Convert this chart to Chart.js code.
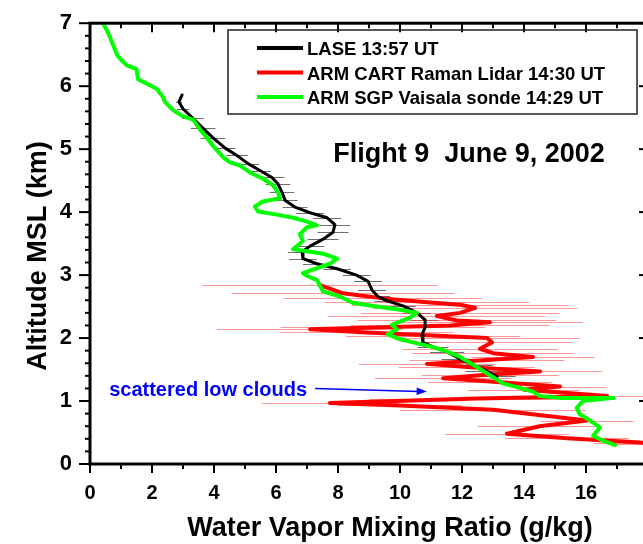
<!DOCTYPE html>
<html>
<head>
<meta charset="utf-8">
<script src="https://cdn.jsdelivr.net/npm/chart.js@4.4.1/dist/chart.umd.min.js"></script>
<style>
html, body { margin: 0; padding: 0; background: #fff; overflow: hidden; }
#wrap { width: 643px; height: 544px; overflow: hidden; }
</style>
</head>
<body>
<div id="wrap"><canvas id="chart" width="656" height="544"></canvas></div>
<script>
// LASE 13:57 UT
const laseX   = [2.97, 2.87, 3.0, 3.32, 3.65, 3.97, 4.35, 4.74, 5.1, 5.48, 5.87, 6.06, 6.19, 6.29, 6.61, 7.1, 7.65, 7.9, 7.84, 7.52, 7.1, 6.84, 6.87, 7.32, 7.97, 8.6, 8.97, 9.1, 9.29, 9.58, 10.1, 10.55, 10.81, 10.81, 10.71, 10.74, 11.06, 11.52, 11.94, 12.35, 12.81, 13.13];
const laseAlt = [5.86, 5.75, 5.64, 5.49, 5.33, 5.18, 5.02, 4.90, 4.77, 4.66, 4.55, 4.45, 4.32, 4.19, 4.08, 3.99, 3.91, 3.80, 3.68, 3.57, 3.46, 3.37, 3.26, 3.18, 3.10, 3.00, 2.90, 2.76, 2.66, 2.59, 2.51, 2.40, 2.29, 2.17, 2.06, 1.93, 1.86, 1.78, 1.67, 1.57, 1.47, 1.39];
const laseErr = [0, 0.1, 0.2, 0.35, 0.4, 0.4, 0.35, 0.35, 0.35, 0.35, 0.4, 0.4, 0.4, 0.4, 0.4, 0.45, 0.45, 0.5, 0.5, 0.5, 0.45, 0.45, 0.45, 0.45, 0.45, 0.45, 0.45, 0.45, 0.4, 0.4, 0.4, 0.45, 0.45, 0.4, 0.4, 0.45, 0.5, 0.55, 0.6, 0.65, 0.7, 0.6];

// ARM CART Raman Lidar 14:30 UT
const lidarX   = [7.42, 8.16, 9.45, 10.87, 11.94, 12.42, 11.94, 11.19, 11.84, 12.9, 11.61, 9.45, 7.1, 8.94, 11.06, 12.81, 12.97, 12.58, 13.0, 14.29, 12.8, 10.87, 12.16, 14.52, 12.9, 11.39, 12.9, 15.16, 14.0, 16.68, 12.5, 7.74, 10.0, 13.0, 16.03, 14.5, 13.45, 15.39, 17.74, 18.2];
const lidarAlt = [2.84, 2.71, 2.63, 2.57, 2.53, 2.48, 2.40, 2.35, 2.28, 2.25, 2.20, 2.17, 2.14, 2.09, 2.04, 2.00, 1.93, 1.83, 1.76, 1.70, 1.65, 1.59, 1.54, 1.47, 1.42, 1.36, 1.31, 1.23, 1.18, 1.08, 1.04, 0.97, 0.93, 0.86, 0.69, 0.60, 0.48, 0.41, 0.34, 0.32];
const lidarErr = [3.8, 3.6, 3.2, 3.3, 3.5, 3.3, 3.2, 3.5, 3.2, 3.0, 3.2, 3.3, 3.0, 2.8, 2.8, 3.0, 2.6, 2.5, 2.6, 2.0, 2.5, 2.2, 2.2, 2.0, 2.2, 2.2, 2.0, 1.5, 1.8, 1.5, 3.5, 2.2, 2.0, 3.0, 1.5, 2.0, 2.0, 2.0, 1.5, 1.5];

// ARM SGP Vaisala sonde 14:29 UT
const sondeX   = [0.42, 0.55, 0.65, 0.75, 0.87, 1.0, 1.19, 1.5, 1.55, 1.83, 2.15, 2.35, 2.42, 2.68, 3.0, 3.33, 3.55, 3.77, 3.97, 4.3, 4.52, 4.84, 5.16, 5.58, 5.9, 6.06, 6.13, 5.58, 5.32, 5.42, 6.03, 6.55, 7.0, 7.32, 7.0, 6.77, 6.87, 6.55, 7.0, 7.52, 7.97, 7.74, 7.1, 6.87, 7.0, 7.32, 7.52, 8.06, 8.48, 9.13, 10.0, 10.55, 10.3, 9.74, 9.9, 9.61, 10.0, 10.87, 11.39, 11.94, 12.48, 12.97, 13.32, 13.77, 14.29, 14.52, 15.16, 16.0, 16.9, 15.9, 15.7, 15.8, 16.13, 16.45, 16.23, 16.55, 16.94];
const sondeAlt = [7.0, 6.88, 6.77, 6.65, 6.50, 6.42, 6.33, 6.27, 6.11, 6.04, 5.96, 5.83, 5.75, 5.62, 5.52, 5.47, 5.31, 5.18, 5.05, 4.87, 4.79, 4.74, 4.63, 4.53, 4.43, 4.32, 4.22, 4.17, 4.09, 4.01, 3.96, 3.91, 3.85, 3.79, 3.76, 3.65, 3.54, 3.41, 3.38, 3.34, 3.26, 3.18, 3.07, 3.03, 2.99, 2.92, 2.74, 2.66, 2.56, 2.51, 2.45, 2.40, 2.32, 2.21, 2.14, 2.06, 1.98, 1.88, 1.81, 1.70, 1.54, 1.39, 1.28, 1.22, 1.15, 1.08, 1.05, 1.05, 1.05, 1.0, 0.89, 0.79, 0.69, 0.58, 0.45, 0.37, 0.30];

const xTicksShown = [0, 2, 4, 6, 8, 10, 12, 14, 16];
const yTicksShown = [0, 1, 2, 3, 4, 5, 6, 7];
const seriesNames = ['LASE 13:57 UT', 'ARM CART Raman Lidar 14:30 UT', 'ARM SGP Vaisala sonde 14:29 UT'];
const chartTitle = 'Flight 9  June 9, 2002';
const xTitle = 'Water Vapor Mixing Ratio (g/kg)';
const yTitle = 'Altitude MSL (km)';
const note = 'scattered low clouds';
const noteArrow = [[7.26, 1.20], [10.87, 1.15]];

const FONT = '"Liberation Sans", Arial, sans-serif';

function pts(xs, ys) {
    return xs.map((v, i) => ({ x: v, y: ys[i] }));
}

const errorBars = {
    id: 'errorBars',
    beforeDatasetsDraw(chart) {
        const { ctx, chartArea: a } = chart;
        ctx.save();
        ctx.beginPath();
        ctx.rect(a.left, a.top, a.right - a.left, a.bottom - a.top);
        ctx.clip();
        chart.data.datasets.forEach(ds => {
            if (!ds.xErr) return;
            const xs = chart.scales.x, ys = chart.scales.y;
            ctx.strokeStyle = ds.errColor;
            ctx.lineWidth = 1;
            ds.data.forEach((p, i) => {
                const e = ds.xErr[i];
                if (!e) return;
                const py = Math.round(ys.getPixelForValue(p.y)) + 0.5;
                ctx.beginPath();
                ctx.moveTo(xs.getPixelForValue(p.x - e), py);
                ctx.lineTo(xs.getPixelForValue(p.x + e), py);
                ctx.stroke();
            });
        });
        ctx.restore();
    }
};

const frame = {
    id: 'frame',
    afterDatasetsDraw(chart) {
        const { ctx, chartArea: a, scales: { x, y } } = chart;
        ctx.save();
        ctx.strokeStyle = '#000';
        ctx.lineWidth = 2;
        function seg(x1, y1, x2, y2) {
            ctx.beginPath();
            ctx.moveTo(x1, y1);
            ctx.lineTo(x2, y2);
            ctx.stroke();
        }
        for (let v = 0; v <= 18; v++) {
            const px = x.getPixelForValue(v);
            const len = v % 2 === 0 ? 9 : 5;
            seg(px, a.bottom, px, a.bottom + len);
            seg(px, a.top, px, a.top + len);
        }
        for (let i = 0; i <= 35; i++) {
            const py = y.getPixelForValue(i * 0.2);
            const major = i % 5 === 0;
            seg(a.left - (major ? 11 : 5), py, a.left, py);
            if (major) seg(a.right - 9, py, a.right, py);
        }
        ctx.lineWidth = 3;
        ctx.strokeRect(a.left, a.top, a.right - a.left, a.bottom - a.top);
        ctx.restore();
    }
};

const extras = {
    id: 'extras',
    afterDraw(chart) {
        const { ctx, scales: { x, y } } = chart;
        ctx.save();

        // legend
        ctx.strokeStyle = '#222';
        ctx.lineWidth = 1.5;
        ctx.strokeRect(228, 30, 409, 84);
        ctx.font = 'bold 18.5px ' + FONT;
        ctx.textBaseline = 'alphabetic';
        ctx.textAlign = 'left';
        chart.data.datasets.forEach((ds, i) => {
            const ly = 48 + i * 24.5;
            ctx.strokeStyle = ds.borderColor;
            ctx.lineWidth = 4;
            ctx.beginPath();
            ctx.moveTo(257, ly);
            ctx.lineTo(303, ly);
            ctx.stroke();
            ctx.fillStyle = '#000';
            ctx.fillText(ds.label, 307, ly + 7);
        });

        // title in plot
        ctx.font = 'bold 27px ' + FONT;
        ctx.textAlign = 'center';
        ctx.fillText(chartTitle, 469, 162);

        // axis titles
        ctx.font = 'bold 27px ' + FONT;
        ctx.fillText(xTitle, 390, 536);
        ctx.save();
        ctx.translate(46, 256);
        ctx.rotate(-Math.PI / 2);
        ctx.fillText(yTitle, 0, 0);
        ctx.restore();

        // annotation
        ctx.fillStyle = '#0000ff';
        ctx.strokeStyle = '#0000ff';
        ctx.font = 'bold 20px ' + FONT;
        ctx.textAlign = 'right';
        ctx.fillText(note, x.getPixelForValue(7.0), y.getPixelForValue(noteArrow[0][1]) + 8);
        const x1 = x.getPixelForValue(noteArrow[0][0]), y1 = y.getPixelForValue(noteArrow[0][1]);
        const x2 = x.getPixelForValue(noteArrow[1][0]), y2 = y.getPixelForValue(noteArrow[1][1]);
        ctx.lineWidth = 1.5;
        ctx.beginPath();
        ctx.moveTo(x1, y1);
        ctx.lineTo(x2 - 8, y2);
        ctx.stroke();
        const ang = Math.atan2(y2 - y1, x2 - x1);
        ctx.beginPath();
        ctx.moveTo(x2, y2);
        ctx.lineTo(x2 - 11 * Math.cos(ang - 0.35), y2 - 11 * Math.sin(ang - 0.35));
        ctx.lineTo(x2 - 11 * Math.cos(ang + 0.35), y2 - 11 * Math.sin(ang + 0.35));
        ctx.closePath();
        ctx.fill();

        ctx.restore();
    }
};

new Chart(document.getElementById('chart'), {
    type: 'scatter',
    data: {
        datasets: [{
            label: seriesNames[0],
            data: pts(laseX, laseAlt),
            xErr: laseErr,
            errColor: 'rgba(50, 50, 50, 0.7)',
            borderColor: '#000000',
            borderWidth: 3,
            order: 1
        }, {
            label: seriesNames[1],
            data: pts(lidarX, lidarAlt),
            xErr: lidarErr,
            errColor: 'rgba(255, 70, 70, 0.55)',
            borderColor: '#ff0000',
            borderWidth: 4,
            order: 2
        }, {
            label: seriesNames[2],
            data: pts(sondeX, sondeAlt),
            borderColor: '#00ff00',
            borderWidth: 4,
            order: 0
        }]
    },
    options: {
        responsive: false,
        animation: false,
        devicePixelRatio: 1,
        showLine: true,
        elements: {
            point: { radius: 0, hoverRadius: 0 },
            line: { tension: 0, borderJoinStyle: 'round', borderCapStyle: 'round' }
        },
        layout: { padding: { left: 0, top: 15, right: 8, bottom: 0 } },
        plugins: {
            legend: { display: false },
            tooltip: { enabled: false }
        },
        scales: {
            x: {
                type: 'linear',
                min: 0,
                max: 18,
                grid: { display: false },
                border: { display: false },
                afterFit: s => { s.height = 80; },
                afterBuildTicks: s => { s.ticks = xTicksShown.map(v => ({ value: v })); },
                ticks: {
                    color: '#000',
                    padding: 9,
                    autoSkip: false,
                    maxRotation: 0,
                    font: { family: FONT, size: 20, weight: 'bold' }
                }
            },
            y: {
                type: 'linear',
                min: 0,
                max: 7,
                grid: { display: false },
                border: { display: false },
                afterFit: s => { s.width = 90; },
                afterBuildTicks: s => { s.ticks = yTicksShown.map(v => ({ value: v })); },
                ticks: {
                    color: '#000',
                    padding: 10,
                    font: { family: FONT, size: 22, weight: 'bold' }
                }
            }
        }
    },
    plugins: [errorBars, frame, extras]
});
</script>
</body>
</html>
